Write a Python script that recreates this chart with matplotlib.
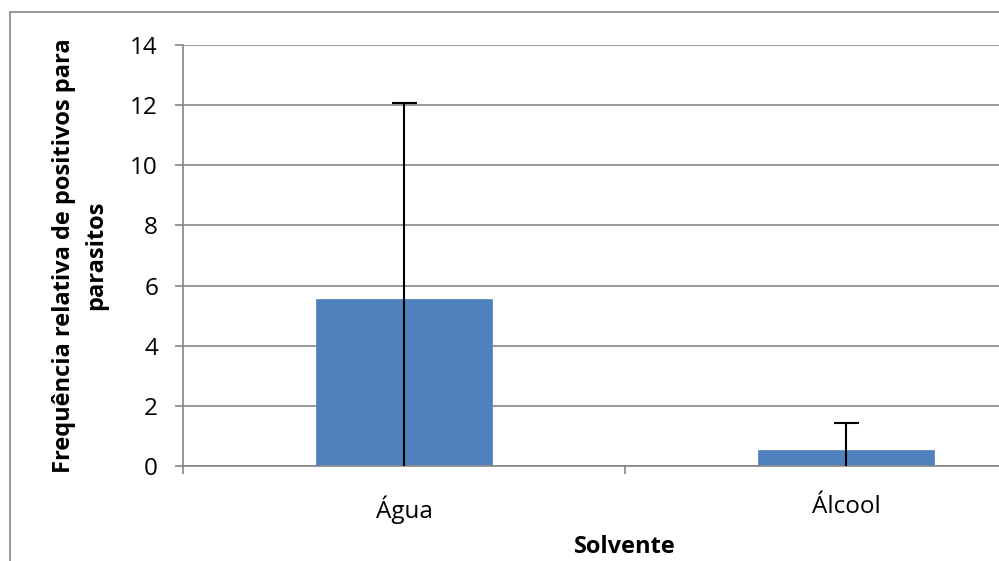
import matplotlib
matplotlib.use("Agg")
import matplotlib.pyplot as plt
from matplotlib.patches import Rectangle

categories = ["Água", "Álcool"]
values = [5.55, 0.52]
errors = [6.53, 0.92]
yticks = [0, 2, 4, 6, 8, 10, 12, 14]

plt.rcParams['font.family'] = ['Open Sans', 'DejaVu Sans']
grey = '#868686'

fig = plt.figure(figsize=(9.99, 5.61), dpi=100)
# outer chart border (right and bottom edges fall outside the picture)
fig.patches.append(Rectangle((10/999, -0.1), 1.2, (561-12)/561 + 0.1,
                             transform=fig.transFigure, fill=False,
                             edgecolor=grey, linewidth=1.2))

ax = fig.add_axes([183/999, 95/561, 884/999, 421/561])
x = list(range(len(categories)))
ax.bar(x, values, width=0.4, color='#4F81BD', edgecolor='#5B8BC4',
       linewidth=0.6, zorder=2)
ax.errorbar(x, values, yerr=errors, fmt='none', ecolor='black',
            elinewidth=1.5, capsize=9, capthick=1.5, zorder=3)

ax.set_xlim(-0.5, len(categories) - 0.5)
ax.set_ylim(0, 14)
ax.set_yticks(yticks)
ax.yaxis.grid(True, color=grey, linewidth=1.2)
ax.set_axisbelow(True)

ax.set_xticks(x)
ax.set_xticklabels(categories, fontsize=17.5)
ax.set_xticks([-0.5, 0.5, 1.5], minor=True)
ax.tick_params(axis='x', which='major', length=0, pad=21)
ax.tick_params(axis='x', which='minor', length=6, color=grey, width=1.2)
ax.tick_params(axis='y', length=6, color=grey, width=1.2, labelsize=17.5, pad=12)

for s in ['top', 'right']:
    ax.spines[s].set_visible(False)
for s in ['left', 'bottom']:
    ax.spines[s].set_color(grey)
    ax.spines[s].set_linewidth(1.2)

ax.set_xlabel('Solvente', fontsize=17, fontweight='bold', labelpad=8)
ax.set_ylabel('Frequência relativa de positivos para\nparasitos',
              fontsize=17, fontweight='bold', labelpad=16, linespacing=1.45)

fig.savefig('out.png', dpi=100)
